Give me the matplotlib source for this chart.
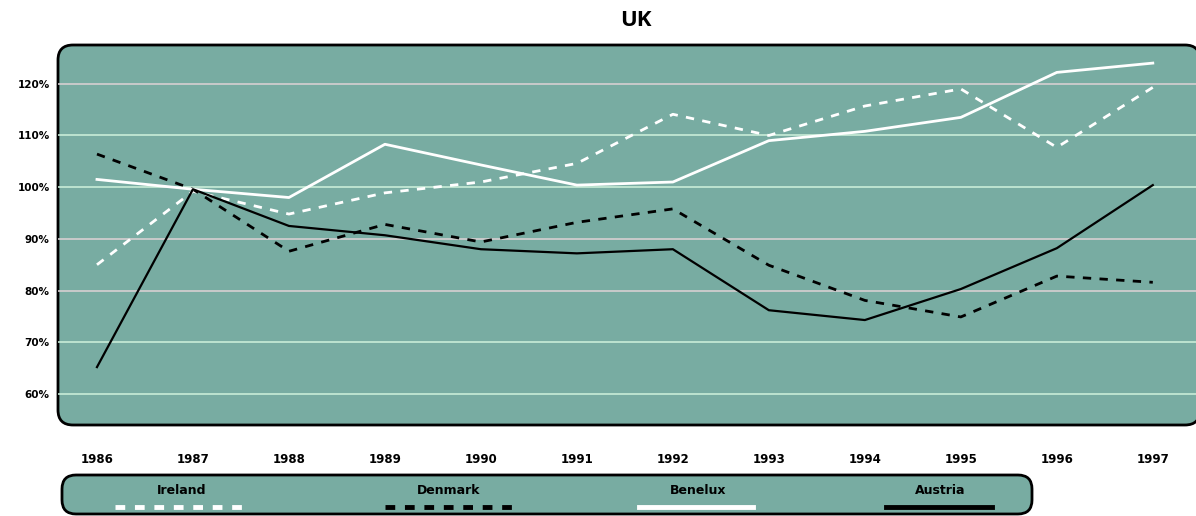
import numpy as np
import matplotlib
matplotlib.use("Agg")
import matplotlib.pyplot as plt
from matplotlib.patches import FancyBboxPatch
from matplotlib.transforms import IdentityTransform
from matplotlib.lines import Line2D

# ~~~~~~~~~~~~~~~~~~~~~~~~~~~~~~~~ Data ~~~~~~~~~~~~~~~~~~~~~~~~~~~~~~~~

years = [1986, 1987, 1988, 1989, 1990, 1991, 1992, 1993, 1994, 1995, 1996, 1997]
year_labels = ["1986", "1987", "1988", "1989", "1990", "1991",
               "1992", "1993", "1994", "1995", "1996", "1997"]

ireland = [85.0, 99.2, 94.8, 98.9, 101.0, 104.6, 114.1, 110.0, 115.7, 119.0, 107.7, 119.3]
denmark = [106.4, 99.6, 87.6, 92.8, 89.4, 93.2, 95.8, 84.9, 78.1, 74.9, 82.8, 81.6]
benelux = [101.5, 99.6, 98.0, 108.3, 104.3, 100.4, 101.0, 109.0, 110.8, 113.5, 122.2, 124.0]
austria = [65.2, 99.6, 92.5, 90.7, 88.0, 87.2, 88.0, 76.2, 74.3, 80.3, 88.2, 100.4]

y_ticks = [60, 70, 80, 90, 100, 110, 120]
y_labels = ["60%", "70%", "80%", "90%", "100%", "110%", "120%"]

# ~~~~~~~~~~~~~~~~~~~~~~~~~~~~~~~ Figure ~~~~~~~~~~~~~~~~~~~~~~~~~~~~~~~

W, H = 1196, 516
bg = "#78aca2"

fig = plt.figure(figsize=(W / 100, H / 100), dpi=100)

# plot area in pixels: left 58, right 1196, top 45, bottom 425
left, right, top, bottom = 58, 1196, 45, 425
ax = fig.add_axes([left / W, (H - bottom) / H, (right - left) / W, (bottom - top) / H])
ax.set_facecolor("none")
for s in ax.spines.values():
    s.set_visible(False)

# rounded frame drawn in pixel coords, behind the axes
frame = FancyBboxPatch((left, H - bottom), right - left + 4, bottom - top,
                       boxstyle="round,pad=0,rounding_size=15",
                       transform=IdentityTransform(), facecolor=bg,
                       edgecolor="black", linewidth=2, zorder=-5)
fig.patches.append(frame)

ax.set_xlim(1985.594, 1997.45)
ax.set_ylim(54.0, 127.5)

for v in y_ticks:
    gc = "#d6cfd2" if v in (80, 90, 120) else "#c8ecd8"
    ax.axhline(v, color=gc, linewidth=1.2, zorder=1)

ax.plot(years, ireland, color="white", linewidth=2, linestyle=(0, (3, 3)), zorder=3)
ax.plot(years, denmark, color="black", linewidth=2, linestyle=(0, (3, 3)), zorder=3)
ax.plot(years, benelux, color="white", linewidth=2, zorder=3)
ax.plot(years, austria, color="black", linewidth=1.6, zorder=3)

ax.set_xticks(years)
ax.set_xticklabels(year_labels, fontsize=8.5, fontweight="bold", family="DejaVu Sans")
ax.set_yticks(y_ticks)
ax.set_yticklabels(y_labels, fontsize=7.5, fontweight="bold", family="DejaVu Sans")
ax.tick_params(length=0)
ax.tick_params(axis="x", pad=20)
ax.tick_params(axis="y", pad=6)

fig.text(636 / W, 1 - 20 / H, "UK", ha="center", va="center",
         fontsize=16, fontweight="bold", family="Open Sans")

# ~~~~~~~~~~~~~~~~~~~~~~~~~~~~~~~ Legend ~~~~~~~~~~~~~~~~~~~~~~~~~~~~~~~

leg_box = FancyBboxPatch((62, H - 514), 1032 - 62, 39,
                         boxstyle="round,pad=0,rounding_size=14",
                         transform=IdentityTransform(), facecolor=bg,
                         edgecolor="black", linewidth=2, zorder=-5)
fig.patches.append(leg_box)

names = ["Ireland", "Denmark", "Benelux", "Austria"]
colors = ["white", "black", "white", "black"]
styles = [(0, (2, 2)), (0, (2, 2)), "-", "-"]
widths = [3.5, 3.5, 3.5, 3.5]
text_x = [182, 449, 698, 940]
line_x = [(115, 245), (385, 513), (639, 753), (886, 992)]

for name, c, st, lw, tx, (x0, x1) in zip(names, colors, styles, widths, text_x, line_x):
    fig.text(tx / W, 1 - 490 / H, name, ha="center", va="center",
             fontsize=9, fontweight="bold", family="DejaVu Sans")
    fig.lines.append(Line2D([x0 / W, x1 / W], [1 - 507 / H, 1 - 507 / H],
                            transform=fig.transFigure, color=c, linewidth=lw,
                            linestyle=st))

fig.savefig("out.png", dpi=100)
